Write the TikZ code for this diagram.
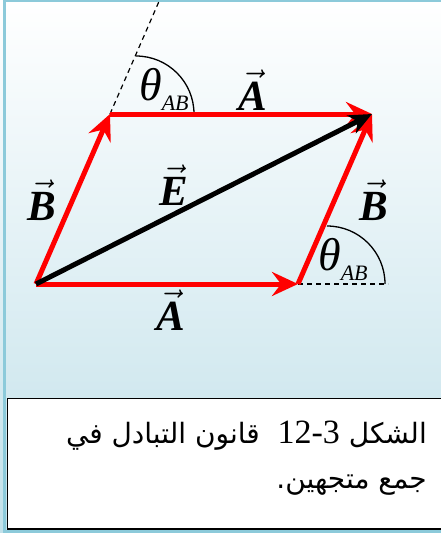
\documentclass[tikz,border=0pt]{standalone}
\usepackage{fix-cm}
\usepackage{amsmath}
\usepackage{fontspec}
\setmainfont{Liberation Serif}
\newfontfamily\arabicfont[Script=Arabic]{DejaVu Sans}
\TeXXeTstate=1
\usetikzlibrary{arrows.meta,calc}

\definecolor{bgblue}{RGB}{194,225,234}
\definecolor{frameblue}{RGB}{140,202,218}
\newcommand{\vecsym}[1]{$\vec{\text{\bfseries\itshape #1}}$}
\newcommand{\anglelbl}{{\fontsize{46}{46}\selectfont\itshape θ}\raisebox{-10pt}{\fontsize{22}{22}\selectfont\itshape AB}}

\begin{document}
\begin{tikzpicture}[x=1pt, y=-1pt,
    redvec/.style={red, line width=5pt, -{Stealth[length=26pt, width=24pt, inset=9pt]}},
    blackvec/.style={black, line width=5pt, -{Stealth[length=23pt, width=20pt, inset=7pt]}},
    dashline/.style={line width=1.2pt, dash pattern=on 5pt off 4pt},
    arcline/.style={line width=1.3pt},
    lbl/.style={font=\fontsize{43}{45}\selectfont, inner sep=0pt},
    captxt/.style={font=\arabicfont\fontsize{28}{31}\selectfont, inner sep=0pt}]
    \useasboundingbox (0,0) rectangle (441,533);
    \clip (0,0) rectangle (441,533);
    % background and frames
    \shade[top color=white, bottom color=bgblue] (0,0) rectangle (441,533);
    \draw[frameblue, line width=2.5pt] (4.5,1.2) rectangle (460,531.5);
    \draw[line width=1.5pt, fill=white] (7.5,398.5) rectangle (460,529);
    % corners of the parallelogram
    \coordinate (O) at (36,284);
    \coordinate (R) at (298,284);
    \coordinate (P) at (110,114);
    \coordinate (Q) at (372,114);
    % construction lines and angles
    \draw[dashline] (P) -- ($(P)!-1!(O)$);
    \draw[dashline] (R) -- ++(90,0) coordinate (Rend);
    \draw[arcline] (136,56) arc[start angle=90, end angle=0, radius=58pt];
    \draw[arcline] (327,226) arc[start angle=90, end angle=0, radius=58pt];
    % vectors
    \draw[redvec] (O) -- (R);
    \draw[redvec] (O) -- (P);
    \draw[redvec] (P) -- (Q);
    \draw[redvec] (R) -- (Q);
    \draw[blackvec] (O) -- (Q);
    % labels
    \node[inner sep=0pt, anchor=base west] (thtop) at (139,100) {\anglelbl};
    \node[inner sep=0pt, anchor=base west] (thbot) at (318,270) {\anglelbl};
    \node[lbl, anchor=base west] (Atop) at (238,110) {\vecsym{A}};
    \node[lbl, anchor=base west] (Abot) at (156,330) {\vecsym{A}};
    \node[lbl, anchor=base west] (Bleft) at (27,220) {\vecsym{B}};
    \node[lbl, anchor=base west] (Bright) at (359,220) {\vecsym{B}};
    \node[lbl, anchor=base west] (E) at (159,205) {\vecsym{E}};
    % caption
    \node[captxt, anchor=base east] (cap1) at (427,443) {\beginR الشكل {\beginL\rmfamily\fontsize{34}{34}\selectfont 12-3\endL}\ \ قانون التبادل في\endR};
    \node[captxt, anchor=base east] (cap2) at (427,488) {\beginR جمع متجهين.\endR};
\end{tikzpicture}
\end{document}
